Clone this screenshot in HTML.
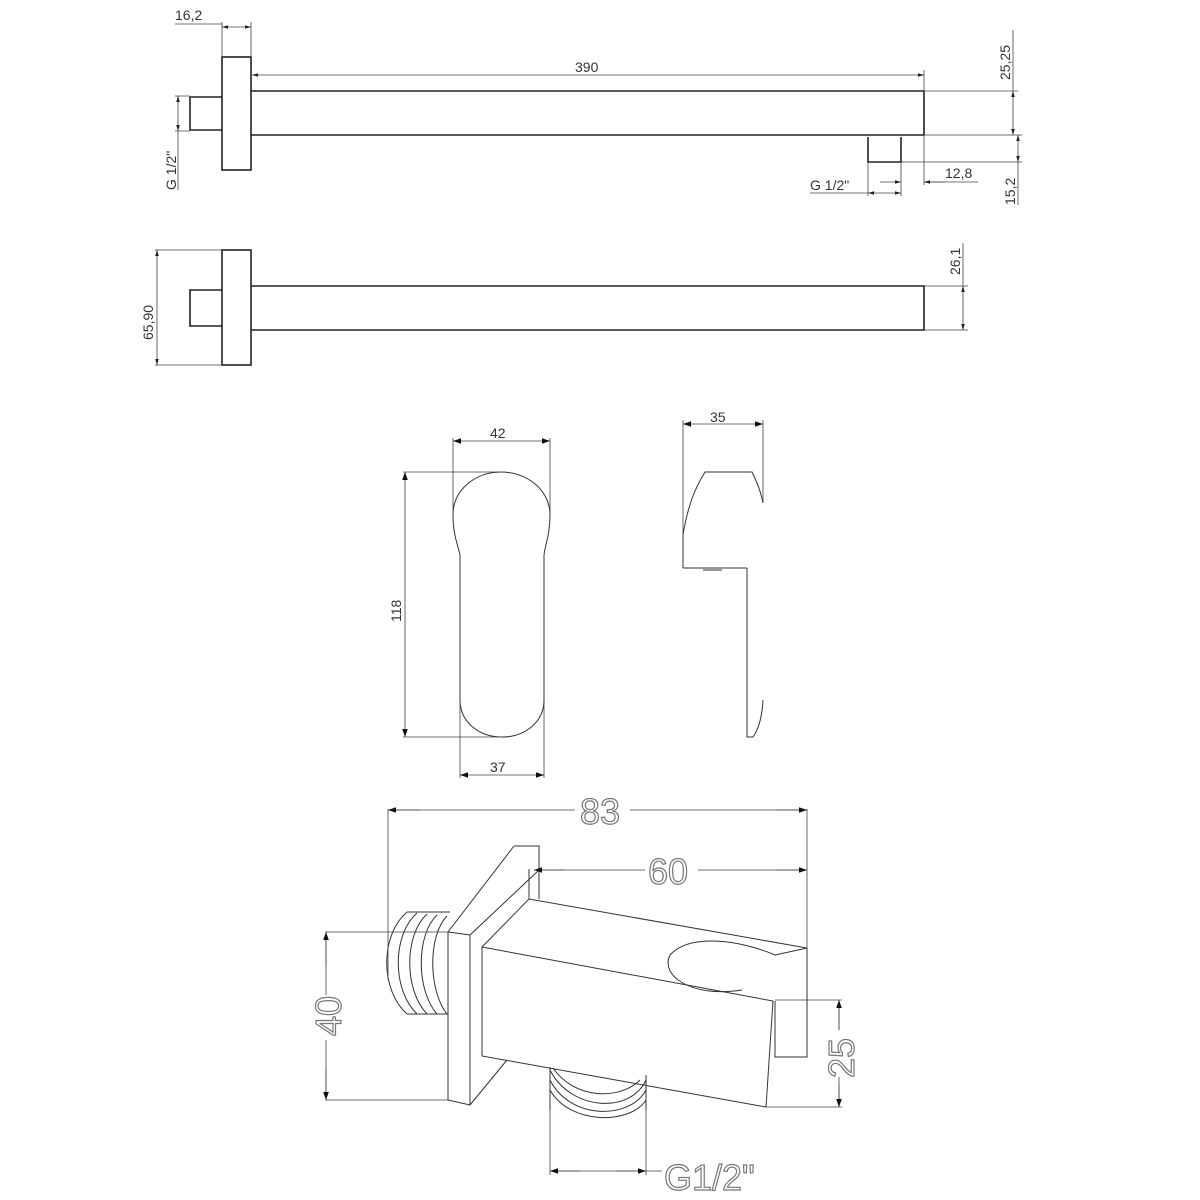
<!DOCTYPE html>
<html><head><meta charset="utf-8"><style>
html,body{margin:0;padding:0;background:#fff;}
svg{display:block;}
.t{font-family:"Liberation Sans",sans-serif;font-size:14px;fill:#333;}
.b{font-family:"Liberation Sans",sans-serif;font-size:36px;fill:none;stroke:#777;stroke-width:1.2;}
</style></head><body>
<svg width="1200" height="1200" viewBox="0 0 1200 1200" xmlns="http://www.w3.org/2000/svg">
<defs>
<marker id="a" viewBox="0 0 10 10" refX="10" refY="5" markerWidth="10" markerHeight="6" orient="auto-start-reverse" markerUnits="userSpaceOnUse"><path d="M0,2 L10,5 L0,8 Z" fill="#222"/></marker>
<marker id="A" viewBox="0 0 10 10" refX="10" refY="5" markerWidth="18" markerHeight="8" orient="auto-start-reverse" markerUnits="userSpaceOnUse"><path d="M0,1.5 L10,5 L0,8.5 Z" fill="#111"/></marker>
</defs>
<g fill="none" stroke="#222" stroke-width="1.6">
<rect x="222" y="57" width="29" height="113"/>
<path d="M251,91 H924 V135 H251"/>
<path d="M222,97 H190 V130 H222"/>
<path d="M868,137 V162 H901 V137"/>
<rect x="222" y="250" width="29" height="115"/>
<path d="M251,286 H924 V330 H251"/>
<path d="M222,290 H190 V326 H222"/>
</g>
<g fill="none" stroke="#444" stroke-width="0.8">
<path d="M222,57 V22 M251,57 V22 M175,24 H222"/>
<path d="M222,27 H251" marker-start="url(#a)" marker-end="url(#a)"/>
<path d="M924,91 V70"/>
<path d="M252,75 H924" marker-start="url(#a)" marker-end="url(#a)"/>
<path d="M190,96 H175 M190,131 H175 M178,131 V190"/>
<path d="M178,96 V131" marker-start="url(#a)" marker-end="url(#a)"/>
<path d="M924,91 H1018 M924,135 H1022 M901,162 H1022 M924,135 V185 M868,162 V196 M901,162 V196"/>
<path d="M1013,30 V91"/>
<path d="M1013,91 V135" marker-start="url(#a)" marker-end="url(#a)"/>
<path d="M1018,135 V162" marker-start="url(#a)" marker-end="url(#a)"/>
<path d="M1018,162 V205"/>
<path d="M880,182 H901" marker-end="url(#a)"/>
<path d="M924,182 H978" />
<path d="M945,182 H924" marker-end="url(#a)"/>
<path d="M810,193 H868"/>
<path d="M868,193 H901" marker-start="url(#a)" marker-end="url(#a)"/>
<path d="M155,250 H222 M155,365 H222"/>
<path d="M157,250 V365" marker-start="url(#a)" marker-end="url(#a)"/>
<path d="M924,286 H968 M924,330 H968 M963,243 V286"/>
<path d="M963,286 V330" marker-start="url(#a)" marker-end="url(#a)"/>
</g>
<g class="t">
<text x="175" y="20">16,2</text>
<text x="575" y="72">390</text>
<text x="945" y="178">12,8</text>
<text x="810" y="190">G 1/2"</text>
<text transform="translate(176,190) rotate(-90)">G 1/2"</text>
<text transform="translate(1010,80) rotate(-90)">25,25</text>
<text transform="translate(1015,205) rotate(-90)">15,2</text>
<text transform="translate(153,340) rotate(-90)">65,90</text>
<text transform="translate(960,275) rotate(-90)">26,1</text>
<text x="490" y="438">42</text>
<text x="710" y="422">35</text>
<text x="490" y="772">37</text>
<text transform="translate(401,622) rotate(-90)">118</text>
</g>
<g fill="none" stroke="#333" stroke-width="1">
<path d="M460,555 C458,545 453,535 453,515 C453,490 475,472 501,472 C527,472 550,490 550,515 C550,535 545,545 544,555 L544,700 C544,722 525,737 502,737 C479,737 460,722 460,700 Z"/>
<path d="M683,568 V535 C688,505 695,488 705,472 H752 C757,482 761,492 763,503 M747,568 H683 M747,568 V737 H753 C758,730 762,718 763,700"/>
<path d="M703,570 H722" stroke-width="1.5" stroke="#777"/>
</g>
<g fill="none" stroke="#444" stroke-width="0.8">
<path d="M453,515 V438 M550,515 V438"/>
<path d="M453,441 H550" marker-start="url(#A)" marker-end="url(#A)"/>
<path d="M403,472 H501 M403,737 H501"/>
<path d="M405,472 V737" marker-start="url(#A)" marker-end="url(#A)"/>
<path d="M460,700 V778 M544,700 V778"/>
<path d="M460,775 H544" marker-start="url(#A)" marker-end="url(#A)"/>
<path d="M683,535 V420 M763,503 V420"/>
<path d="M683,424 H763" marker-start="url(#A)" marker-end="url(#A)"/>
</g>
<g fill="none" stroke="#333" stroke-width="1">
<path d="M407,912 H450 M407,1014 H448"/>
<path d="M407,912 C380,935 380,990 407,1014"/>
<path d="M417,913 C392,935 392,990 417,1014"/>
<path d="M427,914 C404,935 404,990 427,1014"/>
<path d="M437,915 C416,935 416,990 437,1014"/>
<path d="M447,916 C428,935 428,990 447,1014"/>
<path d="M514,846 H539 V899 M514,846 L448,932 V1100 L470,1105 V935 L539,870 M470,1105 L507,1060"/>
<path d="M448,932 L470,935"/>
<path d="M482,947 L773,1001 L766,1107 L482,1056 Z"/>
<path d="M482,947 L529,899 L807,948 V1057 L775,1057 V1001"/>
<path d="M529,899 V869 M775,955 L807,948"/>
<path d="M775,955 C740,940 690,933 670,955 C660,975 690,998 742,990"/>
<path d="M550,1067 V1110 M646,1075 V1110"/>
<path d="M550,1070 C570,1110 630,1115 646,1080"/>
<path d="M550,1080 C570,1120 630,1120 646,1090"/>
<path d="M550,1090 C570,1125 630,1125 646,1100"/>
<path d="M553,1068 C575,1100 620,1100 640,1080"/>
</g>
<g fill="none" stroke="#444" stroke-width="0.8">
<path d="M388,809 V980 M807,809 V948"/>
<path d="M388,810 H575 M630,810 H807"/>
<path d="M388,810 H420" marker-start="url(#A)"/>
<path d="M775,810 H807" marker-end="url(#A)"/>
<path d="M534,870 H645 M698,870 H807"/>
<path d="M534,870 H565" marker-start="url(#A)"/>
<path d="M775,870 H807" marker-end="url(#A)"/>
<path d="M325,932 H448 M325,1100 H448"/>
<path d="M326,932 V995 M326,1040 V1100"/>
<path d="M326,932 V965" marker-start="url(#A)"/>
<path d="M326,1068 V1100" marker-end="url(#A)"/>
<path d="M775,1000 H842 M766,1107 H842"/>
<path d="M839,1000 V1030 M839,1085 V1107"/>
<path d="M839,1000 V1030" marker-start="url(#A)"/>
<path d="M839,1077 V1107" marker-end="url(#A)"/>
<path d="M550,1110 V1175 M646,1110 V1175"/>
<path d="M550,1171 H662"/>
<path d="M550,1171 H580" marker-start="url(#A)"/>
<path d="M616,1171 H646" marker-end="url(#A)"/>
</g>
<g class="b">
<text x="580" y="824">83</text>
<text x="648" y="884">60</text>
<text transform="translate(341,1036) rotate(-90)">40</text>
<text transform="translate(854,1078) rotate(-90)">25</text>
<text x="664" y="1190">G1/2"</text>
</g>
</svg>
</body></html>
